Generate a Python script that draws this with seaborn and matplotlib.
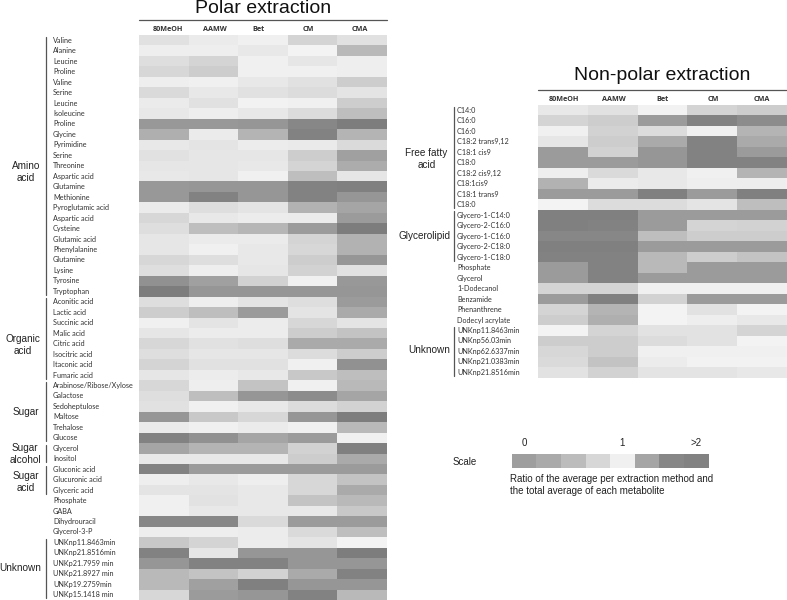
import numpy as np
import matplotlib
matplotlib.use("Agg")
import matplotlib.pyplot as plt
import seaborn as sns

methods = ["80MeOH", "AAMW", "Bet", "CM", "CMA"]

polar_labels = ["Valine", "Alanine", "Leucine", "Proline", "Valine", "Serine", "Leucine", "Isoleucine",
    "Proline", "Glycine", "Pyrimidine", "Serine", "Threonine", "Aspartic acid", "Glutamine", "Methionine",
    "Pyroglutamic acid", "Aspartic acid", "Cysteine", "Glutamic acid", "Phenylalanine", "Glutamine", "Lysine",
    "Tyrosine", "Tryptophan", "Aconitic acid", "Lactic acid", "Succinic acid", "Malic acid", "Citric acid",
    "Isocitric acid", "Itaconic acid", "Fumaric acid", "Arabinose/Ribose/Xylose", "Galactose", "Sedoheptulose",
    "Maltose", "Trehalose", "Glucose", "Glycerol", "Inositol", "Gluconic acid", "Glucuronic acid", "Glyceric acid",
    "Phosphate", "GABA", "Dihydrouracil", "Glycerol-3-P", "UNKnp11.8463min", "UNKnp21.8516min", "UNKp21.7959 min",
    "UNKp21.8927 min", "UNKp19.2759min", "UNKp15.1418 min"]

# grey level of every cell
polar_grey = [
    [225,235,240,212,225],[238,238,232,243,185],[222,212,240,230,238],[215,205,240,240,238],
    [238,240,232,225,205],[218,232,225,220,228],[235,225,242,240,205],[232,238,232,220,190],
    [152,152,150,135,125],[175,235,180,130,180],[232,228,236,234,218],[225,230,230,205,160],
    [230,230,232,212,172],[232,230,240,190,230],[152,150,150,130,128],[152,130,150,130,150],
    [235,222,228,178,165],[215,232,236,235,155],[222,190,182,155,125],[230,235,235,212,178],
    [230,240,232,215,178],[215,222,232,205,150],[222,238,230,210,225],[145,160,210,240,152],
    [125,150,150,150,150],[222,238,228,222,155],[205,190,155,228,170],[240,228,236,215,228],
    [230,236,236,205,195],[215,225,222,170,170],[222,230,230,220,205],[212,225,225,240,145],
    [230,236,232,200,190],[215,238,195,240,185],[222,190,150,140,165],[225,240,232,220,210],
    [150,200,215,150,125],[235,240,235,240,185],[130,145,165,155,240],[165,180,180,210,128],
    [232,232,232,205,170],[130,155,155,155,155],[238,232,238,215,195],[228,228,232,215,170],
    [240,226,232,195,185],[240,232,232,232,200],[135,135,218,155,155],[238,238,236,218,190],
    [200,212,236,228,243],[130,230,150,150,125],[150,130,130,150,150],[185,195,210,170,130],
    [185,160,128,150,150],[215,155,150,130,185]]

nonpolar_labels = ["C14:0", "C16:0", "C16:0", "C18:2 trans9,12", "C18:1 cis9", "C18:0", "C18:2 cis9,12",
    "C18:1cis9", "C18:1 trans9", "C18:0", "Glycero-1-C14:0", "Glycero-2-C16:0", "Glycero-1-C16:0",
    "Glycero-2-C18:0", "Glycero-1-C18:0", "Phosphate", "Glycerol", "1-Dodecanol", "Benzamide", "Phenanthrene",
    "Dodecyl acrylate", "UNKnp11.8463min", "UNKnp56.03min", "UNKnp62.6337min", "UNKnp21.0383min", "UNKnp21.8516min"]

nonpolar_grey = [
    [232,225,242,212,205],[212,205,155,130,140],[240,210,220,240,180],[230,205,170,130,170],
    [155,210,150,130,155],[155,155,150,130,130],[238,218,232,240,180],[178,235,232,238,238],
    [155,155,128,155,128],[243,220,220,228,190],[128,128,155,155,155],[128,130,155,212,210],
    [135,135,190,205,205],[128,128,155,155,155],[130,130,185,205,195],[155,130,185,155,155],
    [155,130,155,155,155],[212,212,240,240,240],[155,128,210,155,155],[212,180,243,226,243],
    [205,175,243,238,232],[243,212,226,226,212],[205,205,220,226,243],[215,205,240,240,240],
    [218,195,236,242,242],[226,210,228,228,232]]

scale_grey = [[158,170,188,215,240,165,135,130]]

# (label, first row, last row, label x, label y)
polar_groups = [("Amino\nacid", 0, 24, 26, 172), ("Organic\nacid", 25, 32, 22.5, 345), ("Sugar", 33, 38, 26, 412),
                ("Sugar\nalcohol", 39, 40, 25, 454), ("Sugar\nacid", 41, 43, 26, 482), ("Unknown", 48, 53, 20, 568)]
nonpolar_groups = [("Free fatty\nacid", 0, 9, 426.5, 159), ("Glycerolipid", 10, 14, 424.5, 236), ("Unknown", 21, 25, 429.5, 350)]

W, H = 787, 600
sns.set_theme(style="white")
plt.rcParams["font.family"] = ["Liberation Sans", "DejaVu Sans"]
fig = plt.figure(figsize=(W / 100, H / 100), dpi=100, facecolor="white")


def box(x0, y0, x1, y1):
    return fig.add_axes([x0 / W, 1 - y1 / H, (x1 - x0) / W, (y1 - y0) / H])


def panel(grey, labels, groups, x0, y0, x1, y1, line_y, title, title_y, label_x, bar_x, tick_pos):
    ax = box(x0, y0, x1, y1)
    sns.heatmap(np.array(grey), ax=ax, cmap="gray", vmin=0, vmax=255, cbar=False,
                xticklabels=methods, yticklabels=labels, linewidths=0, rasterized=True)
    ax.xaxis.tick_top()
    ax.tick_params(axis="both", length=0)
    ax.tick_params(axis="x", pad=1.2)
    ax.set_xticks(tick_pos)
    ax.set_xticklabels(methods, rotation=0, fontsize=5.2, fontweight="bold", color="#333333",
                       family=["Open Sans", "DejaVu Sans"])
    ax.tick_params(axis="y", pad=(x0 - label_x) * 0.72)
    ax.set_yticklabels(labels, rotation=0, ha="left", fontsize=5.2, color="#333333",
                       family=["Lato", "DejaVu Sans"])
    xc = (x0 + x1) / 2
    fig.text(xc / W, 1 - title_y / H, title, ha="center", va="center", fontsize=14, color="#111111")
    fig.add_artist(plt.Line2D([x0 / W, x1 / W], [1 - line_y / H] * 2, color="#555555", lw=0.9))
    row_h = (y1 - y0) / len(labels)
    for name, r0, r1, gx, gy in groups:
        ya = 1 - (y0 + (r0 + 0.15) * row_h) / H
        yb = 1 - (y0 + (r1 + 0.85) * row_h) / H
        fig.add_artist(plt.Line2D([bar_x / W] * 2, [ya, yb], color="#555555", lw=0.9))
        fig.text(gx / W, 1 - gy / H, name, ha="center", va="center",
                 fontsize=7.2, color="#222222", linespacing=1.3)
    return ax


panel(polar_grey, polar_labels, polar_groups, 139, 35, 387, 600, 20, "Polar extraction", 8.5, 53, 46,
      [0.59, 1.53, 2.41, 3.41, 4.46])
panel(nonpolar_grey, nonpolar_labels, nonpolar_groups, 538, 105, 787, 377.7, 89.5, "Non-polar extraction", 75, 457, 454,
      [0.52, 1.52, 2.5, 3.52, 4.5])

ax_s = box(511.7, 454, 708.7, 467.7)
sns.heatmap(np.array(scale_grey), ax=ax_s, cmap="gray", vmin=0, vmax=255, cbar=False,
            xticklabels=False, yticklabels=False)
for txt, px in zip(["0", "1", ">2"], [524, 622.5, 696.5]):
    fig.text(px / W, 1 - 443.5 / H, txt, ha="center", va="center", fontsize=7, color="#222222")
fig.text(453 / W, 1 - 462 / H, "Scale", ha="left", va="center", fontsize=7, color="#222222")
fig.text(509.5 / W, 1 - 479 / H, "Ratio of the average per extraction method and",
         ha="left", va="center", fontsize=7, color="#222222")
fig.text(509.5 / W, 1 - 491 / H, "the total average of each metabolite",
         ha="left", va="center", fontsize=7, color="#222222")

fig.savefig("out.png", dpi=100)
